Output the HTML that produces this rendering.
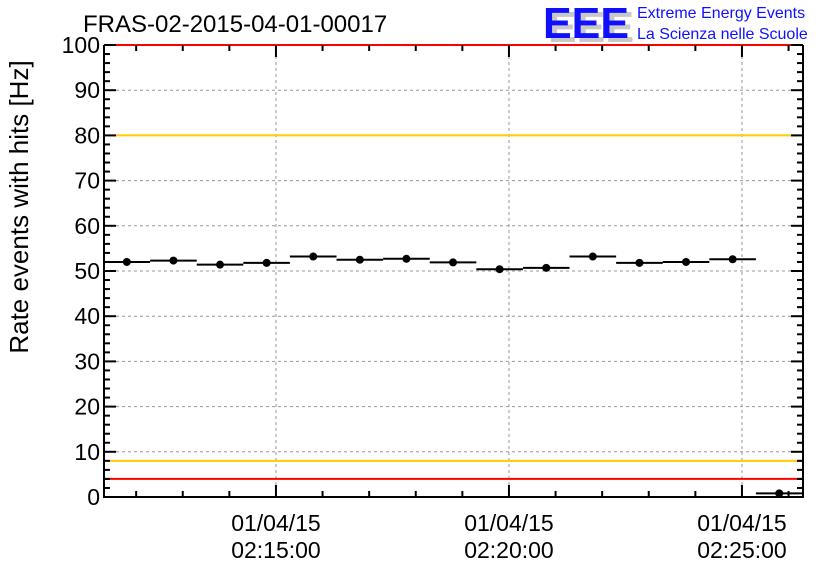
<!DOCTYPE html>
<html><head><meta charset="utf-8"><style>
body{margin:0;background:#fff;width:836px;height:572px;overflow:hidden}
svg text{font-family:"Liberation Sans",sans-serif}
</style></head><body>
<svg id="c" width="836" height="572" xmlns="http://www.w3.org/2000/svg">
<text x="83" y="32" font-size="24" fill="#000">FRAS-02-2015-04-01-00017</text>
<g>
<text x="548" y="42" font-size="44" font-weight="bold" fill="#c8c8c8" textLength="86" lengthAdjust="spacingAndGlyphs">EEE</text>
<text x="543" y="38" font-size="44" font-weight="bold" fill="#1010ff" textLength="86" lengthAdjust="spacingAndGlyphs">EEE</text>
<text x="637" y="18" font-size="16" fill="#1010ff">Extreme Energy Events</text>
<text x="637" y="39" font-size="16" fill="#1010ff">La Scienza nelle Scuole</text>
</g>
<text transform="translate(28,207) rotate(-90)" text-anchor="middle" font-size="26" fill="#000">Rate events with hits [Hz]</text>
<g id="plot"></g>
</svg>
<script>
const yTicks=[0,10,20,30,40,50,60,70,80,90,100];
const xTickMinutes=[5,10,15];
const xTickDates=["01/04/15","01/04/15","01/04/15"];
const xTickTimes=["02:15:00","02:20:00","02:25:00"];
const binCenters=[1.8,2.8,3.8,4.8,5.8,6.8,7.8,8.8,9.8,10.8,11.8,12.8,13.8,14.8,15.8];
const rates=[52.0,52.3,51.4,51.8,53.2,52.5,52.7,51.9,50.4,50.7,53.2,51.8,52.0,52.6,0.8];
const redLevels=[100,4];
const yellowLevels=[80,8];
const X0=104,X1=803,Y0=497,Y1=45;
const xMin=1.31,xMax=16.31;
const xs=m=>X0+(m-xMin)/(xMax-xMin)*(X1-X0);
const ys=v=>Y0-v/100*(Y0-Y1);
const NS="http://www.w3.org/2000/svg";
const g=document.getElementById('plot');
function mk(t,a){const e=document.createElementNS(NS,t);for(const k in a)e.setAttribute(k,a[k]);g.appendChild(e);return e;}
// grid
yTicks.forEach(v=>{if(v>0&&v<100){const l=mk('line',{x1:X0,x2:X1,y1:ys(v),y2:ys(v),stroke:'#999','stroke-dasharray':'3,3','stroke-width':1});

}});
xTickMinutes.forEach(m=>{const l=mk('line',{x1:xs(m),x2:xs(m),y1:Y0,y2:Y1,stroke:'#999','stroke-dasharray':'3,3','stroke-width':1});

});
// threshold lines
yellowLevels.forEach(v=>{const l=mk('line',{x1:X0,x2:X1,y1:ys(v),y2:ys(v),stroke:'#ffcc00','stroke-width':2});

});
redLevels.forEach(v=>{const l=mk('line',{x1:X0,x2:X1,y1:ys(v),y2:ys(v),stroke:'#ff0000','stroke-width':2});

});
// axes frame
const ax=mk('path',{d:`M${X0},${Y1}V${Y0}H${X1}V${Y1}`,fill:'none',stroke:'#000','stroke-width':2});


// y ticks
for(let v=0;v<=100;v+=2){const major=v%10===0;const L=major?12:6;
mk('line',{x1:X0,x2:X0+L,y1:ys(v),y2:ys(v),stroke:'#000','stroke-width':2});
mk('line',{x1:X1,x2:X1-L,y1:ys(v),y2:ys(v),stroke:'#000','stroke-width':2});}
yTicks.forEach(v=>{const t=mk('text',{x:X0-4,y:ys(v)+8,'text-anchor':'end','font-size':23,fill:'#000'});t.textContent=v;

});
// x ticks
for(let m=2;m<=16;m++){const major=m%5===0;const L=major?12:6;
mk('line',{x1:xs(m),x2:xs(m),y1:Y0,y2:Y0-L,stroke:'#000','stroke-width':2});
mk('line',{x1:xs(m),x2:xs(m),y1:Y1,y2:Y1+L,stroke:'#000','stroke-width':2});}
xTickMinutes.forEach((m,i)=>{
const t1=mk('text',{x:xs(m),y:531,'text-anchor':'middle','font-size':23,fill:'#000'});t1.textContent=xTickDates[i];


const t2=mk('text',{x:xs(m),y:558,'text-anchor':'middle','font-size':23,fill:'#000'});t2.textContent=xTickTimes[i];

});
// data
const w=xs(1)-xs(0);
binCenters.forEach((m,i)=>{const x=xs(m),y=ys(rates[i]);
const l=mk('line',{x1:x-w/2,x2:x+w/2,y1:y,y2:y,stroke:'#000','stroke-width':2});


const c=mk('circle',{cx:x,cy:y,r:4,fill:'#000'});

});
</script>
</body></html>
